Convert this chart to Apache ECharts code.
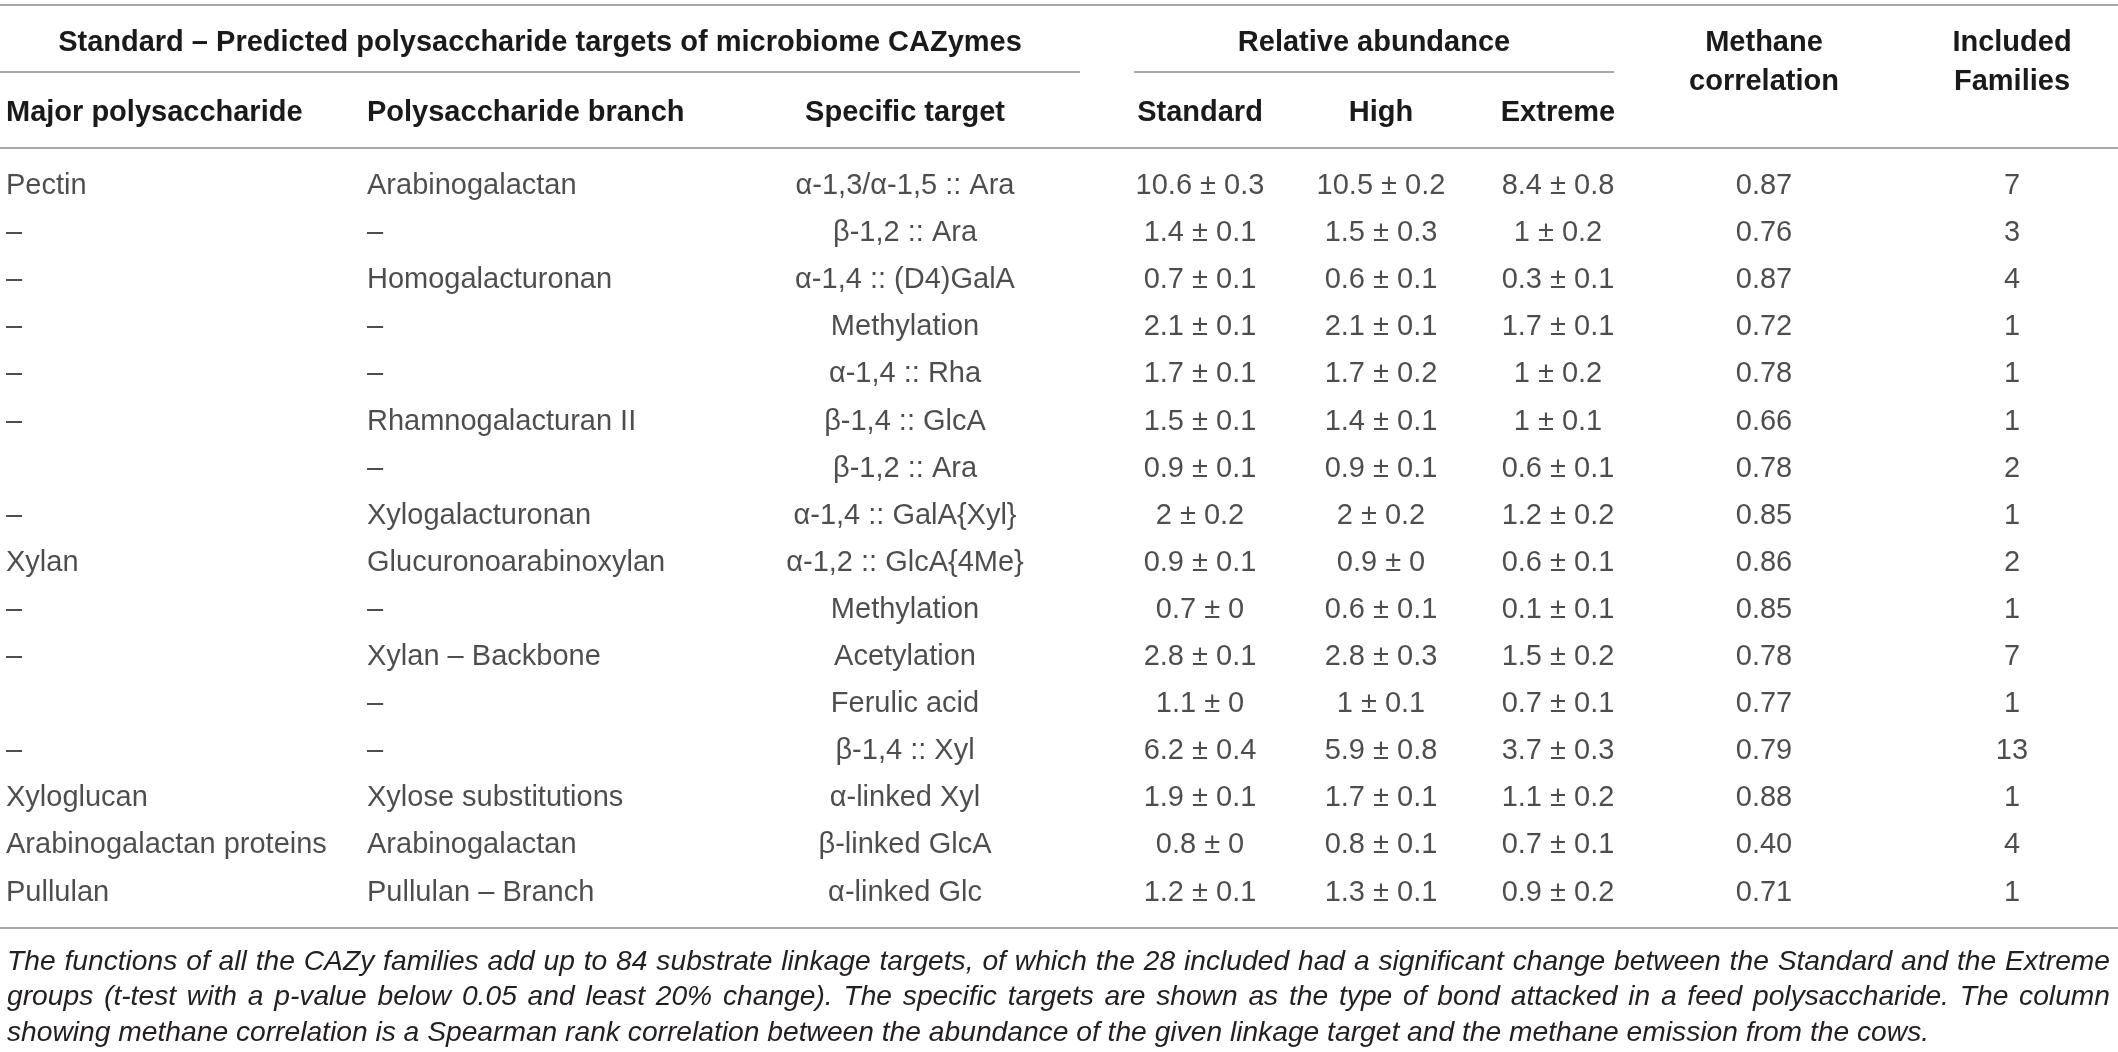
<!DOCTYPE html>
<html lang="en" style="height: 100%">
<head>
  <meta charset="utf-8">
  <script src="https://cdn.jsdelivr.net/npm/echarts/dist/echarts.min.js"></script>
</head>
<body style="height: 100%; margin: 0; background: #fff">
  <div id="container" style="height: 100%"></div>

  <script type="text/javascript">
// table content, one array per column
var majorPoly = ['Pectin', '–', '–', '–', '–', '–', '', '–', 'Xylan', '–', '–', '', '–',
  'Xyloglucan', 'Arabinogalactan proteins', 'Pullulan'];
var branch = ['Arabinogalactan', '–', 'Homogalacturonan', '–', '–', 'Rhamnogalacturan II', '–',
  'Xylogalacturonan', 'Glucuronoarabinoxylan', '–', 'Xylan – Backbone', '–', '–',
  'Xylose substitutions', 'Arabinogalactan', 'Pullulan – Branch'];
var target = ['α-1,3/α-1,5 :: Ara', 'β-1,2 :: Ara', 'α-1,4 :: (D4)GalA', 'Methylation',
  'α-1,4 :: Rha', 'β-1,4 :: GlcA', 'β-1,2 :: Ara', 'α-1,4 :: GalA{Xyl}', 'α-1,2 :: GlcA{4Me}',
  'Methylation', 'Acetylation', 'Ferulic acid', 'β-1,4 :: Xyl', 'α-linked Xyl',
  'β-linked GlcA', 'α-linked Glc'];
var stdMean = [10.6, 1.4, 0.7, 2.1, 1.7, 1.5, 0.9, 2, 0.9, 0.7, 2.8, 1.1, 6.2, 1.9, 0.8, 1.2];
var stdSd = [0.3, 0.1, 0.1, 0.1, 0.1, 0.1, 0.1, 0.2, 0.1, 0, 0.1, 0, 0.4, 0.1, 0, 0.1];
var highMean = [10.5, 1.5, 0.6, 2.1, 1.7, 1.4, 0.9, 2, 0.9, 0.6, 2.8, 1, 5.9, 1.7, 0.8, 1.3];
var highSd = [0.2, 0.3, 0.1, 0.1, 0.2, 0.1, 0.1, 0.2, 0, 0.1, 0.3, 0.1, 0.8, 0.1, 0.1, 0.1];
var extMean = [8.4, 1, 0.3, 1.7, 1, 1, 0.6, 1.2, 0.6, 0.1, 1.5, 0.7, 3.7, 1.1, 0.7, 0.9];
var extSd = [0.8, 0.2, 0.1, 0.1, 0.2, 0.1, 0.1, 0.2, 0.1, 0.1, 0.2, 0.1, 0.3, 0.2, 0.1, 0.2];
var methane = [0.87, 0.76, 0.87, 0.72, 0.78, 0.66, 0.78, 0.85, 0.86, 0.85, 0.78, 0.77, 0.79, 0.88, 0.40, 0.71];
var families = [7, 3, 4, 1, 1, 1, 2, 1, 2, 1, 7, 1, 13, 1, 4, 1];

var colHeaders = ['Major polysaccharide', 'Polysaccharide branch', 'Specific target',
  'Standard', 'High', 'Extreme', 'Methane\ncorrelation', 'Included\nFamilies'];
var groupLeft = 'Standard – Predicted polysaccharide targets of microbiome CAZymes';
var groupAbund = 'Relative abundance';

var footnote = [
  'The functions of all the CAZy families add up to 84 substrate linkage targets, of which the 28 included had a significant change between the Standard and the Extreme',
  'groups (t-test with a p-value below 0.05 and least 20% change). The specific targets are shown as the type of bond attacked in a feed polysaccharide. The column',
  'showing methane correlation is a Spearman rank correlation between the abundance of the given linkage target and the methane emission from the cows.'
];

// layout
var W = 2118;
var colX = [6, 367, 905, 1200, 1381, 1558, 1764, 2012];
var colAlign = ['left', 'left', 'center', 'center', 'center', 'center', 'center', 'center'];
var FONT = '"Liberation Sans", Arial, Helvetica, sans-serif';
var FS = 29;
var INK = '#231f20';
var RULE = '#a8a8a8';

function pm(m, s) { return m + ' ± ' + s; }
var columns = [
  majorPoly, branch, target,
  stdMean.map(function (m, i) { return pm(m, stdSd[i]); }),
  highMean.map(function (m, i) { return pm(m, highSd[i]); }),
  extMean.map(function (m, i) { return pm(m, extSd[i]); }),
  methane.map(function (v) { return v.toFixed(2); }),
  families.map(String)
];
var rowIds = target.map(function (t, i) { return String(i); });

var dom = document.getElementById('container');
var myChart = echarts.init(dom, null, { renderer: 'canvas' });

var series = columns.map(function (col, c) {
  return {
    type: 'scatter',
    silent: true,
    symbolSize: 1,
    itemStyle: { color: 'rgba(0,0,0,0)' },
    label: {
      show: true,
      position: 'inside',
      align: colAlign[c],
      verticalAlign: 'middle',
      fontFamily: FONT,
      fontSize: FS,
      color: INK,
      formatter: function (p) { return p.value[2]; }
    },
    data: col.map(function (txt, i) { return [colX[c], rowIds[i], txt]; })
  };
});

// text measuring for the justified footnote
var ctx = document.createElement('canvas').getContext('2d');
function measure(t, font) { ctx.font = font; return ctx.measureText(t).width; }

var graphics = [];
function rule(x1, x2, y) {
  graphics.push({ type: 'line', silent: true,
    shape: { x1: x1, y1: y, x2: x2, y2: y },
    style: { stroke: RULE, lineWidth: 2 } });
}
function txt(t, x, y, align, weight) {
  graphics.push({ type: 'text', silent: true, x: x, y: y,
    style: { text: t, fill: weight === 'bold' ? '#1a1a1a' : INK, fontFamily: FONT,
      fontSize: FS, fontWeight: weight || 'normal', align: align, verticalAlign: 'middle',
      lineHeight: 39 } });
}

rule(0, W, 5);
rule(0, 1080, 72);
rule(1134, 1614, 72);
rule(0, W, 148);
rule(0, W, 928);

txt(groupLeft, 540, 43, 'center', 'bold');
txt(groupAbund, 1374, 43, 'center', 'bold');
colHeaders.forEach(function (h, c) {
  var y = c >= 6 ? 62 : 113;
  var x = c === 0 ? colX[0] : (c === 1 ? colX[1] : colX[c]);
  txt(h, x, y, colAlign[c], 'bold');
});

// footnote: italic, first lines justified
var fnFont = 'italic ' + FS + 'px ' + FONT;
var lastW = measure(footnote[2], fnFont);
var fnSize = FS * 1923 / lastW;
fnFont = 'italic ' + fnSize + 'px ' + FONT;
var fnLeft = 7, fnRight = 2110;
footnote.forEach(function (line, li) {
  var y = 962 + li * 35.5;
  var words = line.split(' ');
  var gap = measure(' ', fnFont);
  if (li < footnote.length - 1) {
    var wsum = words.reduce(function (s, w) { return s + measure(w, fnFont); }, 0);
    gap = (fnRight - fnLeft - wsum) / (words.length - 1);
  }
  var x = fnLeft;
  words.forEach(function (w) {
    graphics.push({ type: 'text', silent: true, x: x, y: y,
      style: { text: w, fill: INK, fontFamily: FONT, fontSize: fnSize, fontStyle: 'italic',
        align: 'left', verticalAlign: 'middle' } });
    x += measure(w, fnFont) + gap;
  });
});

var band = 47.1;
var option = {
  animation: false,
  grid: { left: 0, right: 0, top: 186 - band / 2, height: band * rowIds.length },
  xAxis: { type: 'value', min: 0, max: W, show: false },
  yAxis: { type: 'category', data: rowIds, inverse: true, show: false },
  series: series,
  graphic: graphics
};

myChart.setOption(option);
window.addEventListener('resize', myChart.resize);
  </script>
</body>
</html>
